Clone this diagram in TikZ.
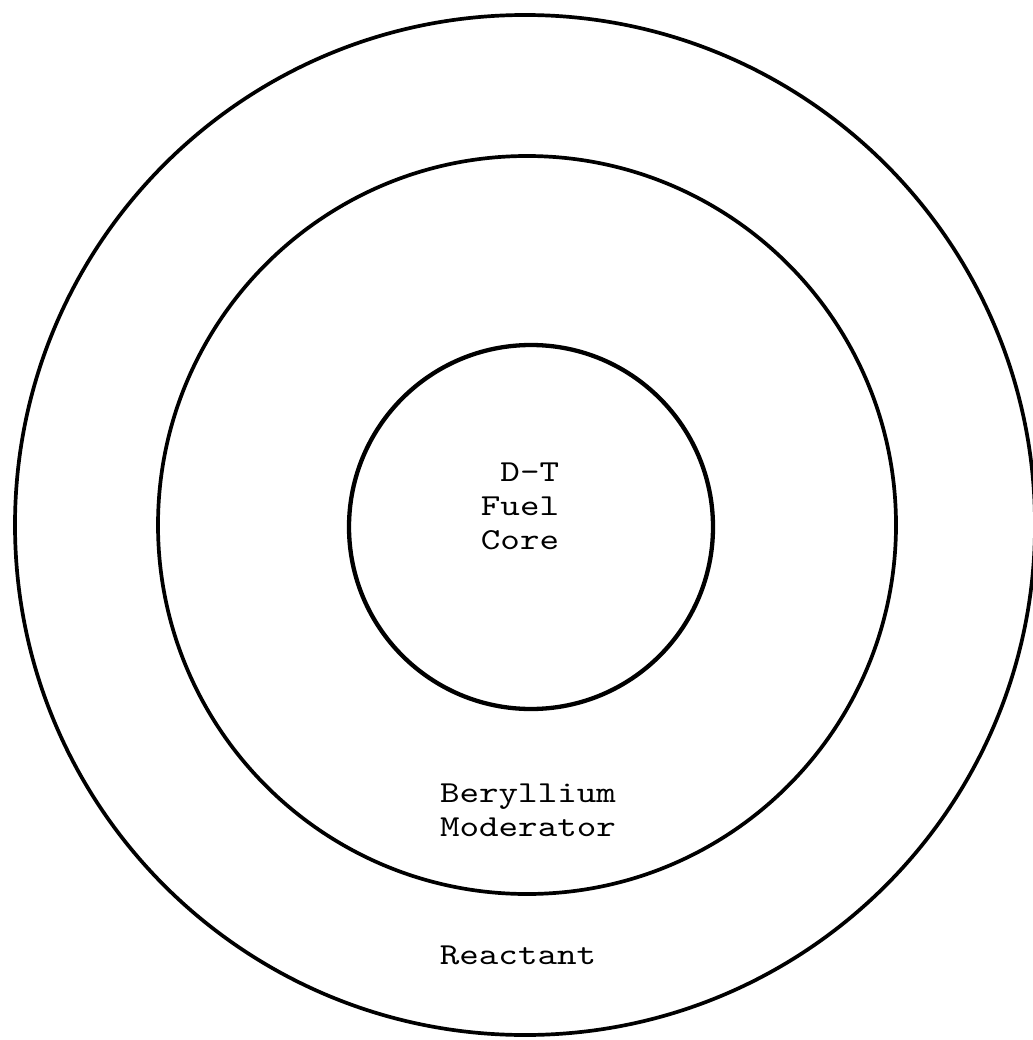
\documentclass[tikz,border=0pt]{standalone}
\usepackage{fontspec}
\newfontfamily\typerfont[FakeStretch=1.22]{lmmono10-regular.otf}
\usepackage{tikz}
\usetikzlibrary{positioning}

\begin{document}
\begin{tikzpicture}[x=1pt, y=-1pt,
      ring/.style={draw=black, line width=3.7pt},
      lbl/.style={font=\typerfont\fontsize{30.5}{34}\selectfont, inner sep=0pt}
    ]
      \useasboundingbox (0,0) rectangle (1032,1040);
      \fill[white] (0,0) rectangle (1032,1040);
      % shells
      \draw[ring] (525,525) circle (510);
      \draw[ring] (527,525) circle (369);
      \draw[ring, line width=4.3pt] (531,527) circle (182);
      % labels
      \node[lbl, align=right] (core) at (520,506) {D-T\\Fuel\\Core};
      \node[lbl, align=center] (mod) at (528,810) {Beryllium\\Moderator};
      \node[lbl] (reac) at (518,955) {Reactant};
    \end{tikzpicture}
\end{document}
